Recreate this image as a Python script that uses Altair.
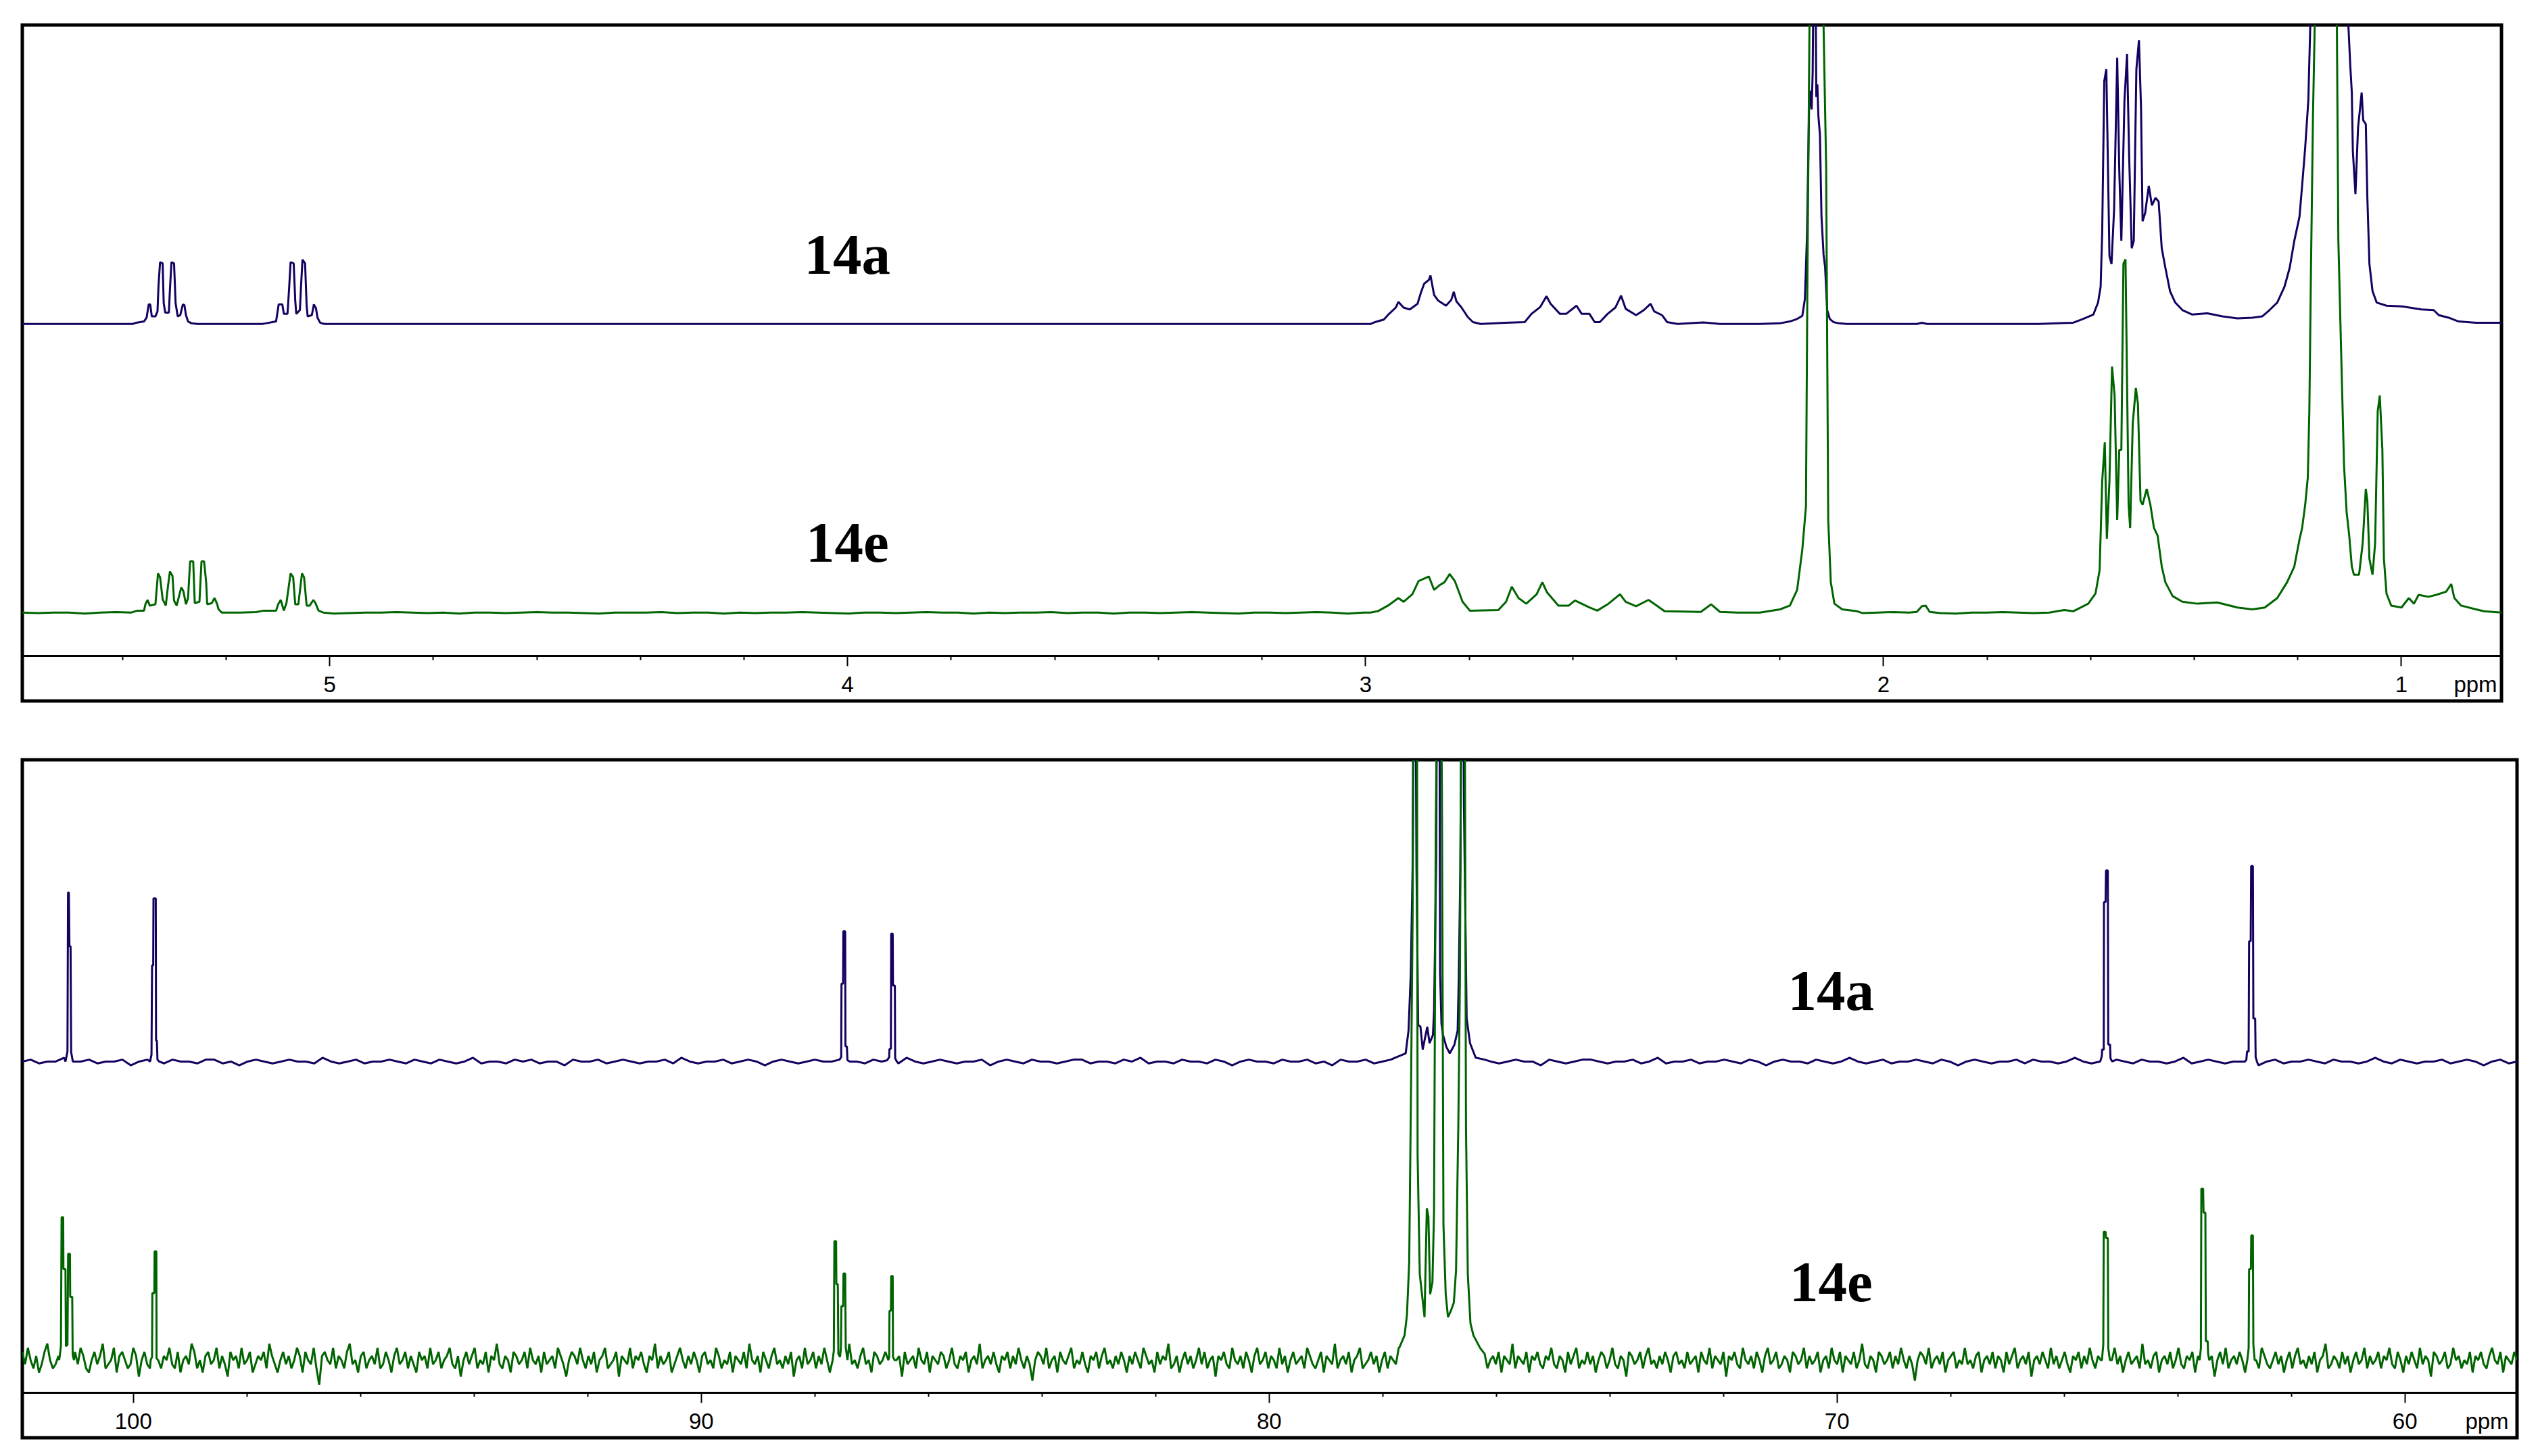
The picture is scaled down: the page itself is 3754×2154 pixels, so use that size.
import altair as alt
import numpy as np
import pandas as pd

NAVY = "#160060"
GREEN = "#006400"
TRACES = ["14a", "14e"]

# ------------------------------------------------------------------ 1H panel
H_DOMAIN = [0.806, 5.593]
H_MAJOR = [5, 4, 3, 2, 1]
H_MINOR = [5.4, 5.2, 4.8, 4.6, 4.4, 4.2, 3.8, 3.6, 3.4, 3.2, 2.8, 2.6, 2.4, 2.2,
           1.8, 1.6, 1.4, 1.2, 0.8]
H_OFFSET = {"14a": 52.6, "14e": 6.85}
H_LABEL_PPM = [4.0, 4.0]
H_LABEL_U = [63.3, 17.7]

H14A_SEGMENTS = [
    [(5.593, 0.0), (5.380, 0.0)],
    [(5.373, 0.2), (5.358, 0.4), (5.353, 1.0), (5.349, 3.1), (5.346, 3.1), (5.343, 1.2), (5.336, 1.2),
     (5.332, 2.0), (5.330, 6.1), (5.327, 9.8), (5.322, 9.6), (5.320, 3.3), (5.317, 1.8), (5.310, 1.8),
     (5.308, 5.4), (5.305, 9.8), (5.300, 9.6), (5.297, 3.3), (5.293, 1.2), (5.288, 1.4), (5.283, 3.1),
     (5.280, 3.0), (5.277, 1.4), (5.273, 0.4), (5.266, 0.1), (5.255, 0.0)],
    [(5.130, 0.0), (5.123, 0.1), (5.103, 0.4), (5.098, 3.1), (5.091, 3.1), (5.088, 1.6), (5.081, 1.6),
     (5.078, 5.4), (5.075, 9.8), (5.069, 9.6), (5.066, 3.7), (5.064, 1.6), (5.057, 2.2), (5.055, 5.7),
     (5.052, 10.2), (5.047, 9.6), (5.044, 2.9), (5.042, 1.2), (5.034, 1.4), (5.030, 3.1), (5.026, 2.5),
     (5.023, 1.0), (5.018, 0.2), (5.010, 0.0)],
    [(2.990, 0.0), (2.981, 0.3), (2.964, 0.7), (2.954, 1.6), (2.941, 2.6), (2.936, 3.5), (2.926, 2.6),
     (2.914, 2.3), (2.899, 3.2), (2.892, 5.1), (2.886, 6.4), (2.877, 7.0), (2.874, 7.7), (2.867, 4.6),
     (2.859, 3.7), (2.844, 2.9), (2.834, 3.8), (2.829, 5.1), (2.824, 3.6), (2.814, 2.6), (2.802, 1.1),
     (2.792, 0.3), (2.777, 0.0), (2.729, 0.2), (2.692, 0.3), (2.679, 1.6), (2.662, 2.7), (2.650, 4.4),
     (2.642, 3.2), (2.624, 1.6), (2.612, 1.6), (2.592, 2.9), (2.582, 1.6), (2.567, 1.6), (2.557, 0.3),
     (2.547, 0.3), (2.532, 1.6), (2.517, 2.6), (2.506, 4.5), (2.497, 2.4), (2.477, 1.4), (2.462, 2.2),
     (2.449, 3.2), (2.442, 2.0), (2.427, 1.4), (2.417, 0.3), (2.397, 0.0), (2.347, 0.25), (2.315, 0.0)],
    [(2.238, 0.0), (2.200, 0.1), (2.180, 0.4), (2.166, 0.8), (2.156, 1.3), (2.151, 4.0), (2.147, 14.0),
     (2.143, 34.0), (2.140, 37.0), (2.138, 34.0), (2.136, 40.0), (2.134, 60.0), (2.131, 60.0),
     (2.129, 36.0), (2.127, 38.0), (2.125, 33.0), (2.122, 30.0), (2.119, 17.0), (2.115, 11.0),
     (2.112, 9.0), (2.108, 2.2), (2.103, 0.8), (2.096, 0.3), (2.085, 0.1), (2.070, 0.0)],
    [(1.935, 0.0), (1.925, 0.2), (1.915, 0.0)],
    [(1.700, 0.0), (1.633, 0.2), (1.614, 0.8), (1.594, 1.5), (1.585, 3.4), (1.580, 5.9), (1.577, 14.5),
     (1.573, 38.5), (1.569, 40.4), (1.563, 10.8), (1.559, 9.5), (1.554, 18.2), (1.548, 42.2),
     (1.544, 24.3), (1.540, 13.2), (1.534, 35.4), (1.529, 42.8), (1.525, 26.8), (1.520, 12.0),
     (1.516, 13.2), (1.511, 40.4), (1.506, 45.0), (1.502, 34.2), (1.499, 16.3), (1.494, 17.6),
     (1.487, 21.9), (1.481, 18.8), (1.474, 20.0), (1.468, 19.4), (1.462, 12.0), (1.455, 8.9),
     (1.446, 5.2), (1.436, 3.4), (1.422, 2.2), (1.403, 1.5), (1.374, 1.7), (1.345, 1.2), (1.316, 0.9),
     (1.287, 1.0), (1.268, 1.2), (1.254, 2.2), (1.239, 3.4), (1.225, 5.9), (1.215, 8.9), (1.206, 13.2),
     (1.196, 17.0), (1.191, 21.9), (1.185, 28.0), (1.179, 35.4), (1.175, 48.0), (1.165, 90.0),
     (1.150, 130.0), (1.135, 100.0), (1.110, 60.0), (1.102, 48.0), (1.098, 41.0), (1.095, 36.7),
     (1.093, 27.4), (1.088, 20.6), (1.083, 31.1), (1.076, 36.7), (1.073, 32.3), (1.068, 31.7),
     (1.065, 20.0), (1.061, 9.5), (1.055, 5.2), (1.047, 3.4), (1.028, 2.9), (0.999, 2.8), (0.961, 2.3),
     (0.937, 2.2), (0.927, 1.4), (0.908, 1.0), (0.889, 0.4), (0.855, 0.2), (0.806, 0.2)],
]

H14E_SEGMENTS = [
    [(5.371, 0.3), (5.358, 0.3), (5.355, 1.4), (5.351, 2.0), (5.347, 1.1), (5.336, 1.3), (5.331, 6.2),
     (5.327, 5.6), (5.322, 2.1), (5.316, 1.1), (5.312, 4.0), (5.308, 6.5), (5.303, 5.8), (5.300, 1.9),
     (5.295, 1.1), (5.286, 4.0), (5.282, 3.4), (5.277, 1.3), (5.273, 2.3), (5.269, 8.1), (5.263, 8.1),
     (5.260, 1.5), (5.251, 1.7), (5.247, 8.1), (5.242, 8.1), (5.238, 4.8), (5.236, 1.3), (5.227, 1.5),
     (5.222, 2.3), (5.217, 1.4), (5.214, 0.5), (5.208, 0.0)],
    [(5.127, 0.3), (5.103, 0.3), (5.099, 1.3), (5.094, 2.0), (5.088, 0.3), (5.083, 1.5), (5.075, 6.2),
     (5.070, 5.6), (5.066, 1.3), (5.060, 1.3), (5.053, 6.2), (5.049, 5.6), (5.044, 1.1), (5.038, 1.1),
     (5.031, 2.0), (5.027, 1.5), (5.021, 0.3), (5.012, 0.0)],
    [(2.990, 0.0), (2.976, 0.2), (2.956, 1.1), (2.936, 2.3), (2.926, 1.7), (2.909, 2.9), (2.897, 5.0),
     (2.877, 5.7), (2.867, 3.6), (2.857, 4.3), (2.847, 4.8), (2.837, 6.1), (2.827, 5.0), (2.812, 1.7),
     (2.798, 0.3), (2.743, 0.4), (2.728, 1.7), (2.717, 4.1), (2.704, 2.3), (2.689, 1.4), (2.669, 2.9),
     (2.658, 4.8), (2.649, 3.2), (2.627, 1.1), (2.607, 1.1), (2.595, 1.9), (2.567, 0.8), (2.552, 0.3),
     (2.532, 1.3), (2.508, 2.9), (2.497, 1.7), (2.477, 1.0), (2.453, 2.0), (2.437, 1.1), (2.422, 0.2),
     (2.352, 0.1), (2.332, 1.3), (2.315, 0.1)],
    [(2.238, 0.0), (2.199, 0.5), (2.180, 1.1), (2.166, 3.6), (2.156, 10.0), (2.149, 16.8), (2.146, 55.0),
     (2.142, 95.0), (2.136, 150.0), (2.130, 200.0), (2.124, 150.0), (2.118, 100.0), (2.115, 93.0),
     (2.110, 70.7), (2.106, 14.7), (2.101, 4.8), (2.094, 1.4), (2.079, 0.5), (2.050, 0.2)],
    [(1.935, 0.1), (1.925, 1.0), (1.918, 1.1), (1.910, 0.1)],
    [(1.650, 0.4), (1.633, 0.2), (1.604, 1.4), (1.590, 3.0), (1.582, 6.7), (1.577, 20.8), (1.572, 27.0),
     (1.568, 11.7), (1.563, 20.8), (1.558, 39.0), (1.553, 34.4), (1.548, 14.7), (1.544, 25.8),
     (1.540, 25.8), (1.536, 55.3), (1.532, 56.0), (1.526, 17.1), (1.523, 13.4), (1.518, 30.0),
     (1.512, 35.6), (1.508, 33.1), (1.503, 17.7), (1.499, 17.1), (1.491, 19.6), (1.484, 17.1),
     (1.477, 13.4), (1.470, 12.2), (1.462, 7.3), (1.455, 4.8), (1.441, 2.6), (1.422, 1.7), (1.393, 1.4),
     (1.355, 1.6), (1.316, 0.8), (1.287, 0.5), (1.263, 0.8), (1.239, 2.3), (1.220, 4.8), (1.206, 7.3),
     (1.196, 11.6), (1.191, 13.4), (1.185, 17.1), (1.180, 21.4), (1.177, 31.9), (1.174, 53.5),
     (1.170, 78.7), (1.165, 100.0), (1.150, 150.0), (1.135, 110.0), (1.124, 95.0), (1.121, 59.0),
     (1.115, 39.3), (1.110, 23.3), (1.105, 15.9), (1.100, 12.2), (1.095, 7.3), (1.091, 6.0),
     (1.081, 6.0), (1.074, 11.0), (1.068, 19.6), (1.065, 17.7), (1.061, 8.5), (1.055, 6.0),
     (1.050, 11.0), (1.045, 31.9), (1.041, 34.4), (1.036, 25.8), (1.033, 8.5), (1.028, 3.0),
     (1.019, 1.1), (0.999, 0.8), (0.985, 2.3), (0.975, 1.4), (0.966, 2.8), (0.947, 2.5), (0.932, 2.8),
     (0.913, 3.3), (0.903, 4.5), (0.897, 2.3), (0.884, 1.1), (0.855, 0.5), (0.840, 0.2)],
]

# small baseline ticks of the 14e proton trace (units of 0.08)
H14E_NOISE = [
    0, -1, 0, 0, -2, 0, 1, 0, -1, 0, 0, -1, -2, 0, 0, 1, 0, -1, 0, 0, -2, -1, 0, 0, 1, 0, -1, 0, -2, 0, 0, -1, 0, 1, 0, 0, -1, -2, 0, 0,
    0, 1, -1, 0, 0, -2, 0, -1, 0, 0, 1, 0, -1, -2, 0, 0, -1, 0, 1, 0, 0, -2, 0, -1, 0, 0, 1, -1, 0, 0, -2, 0, 0, -1, 0, 1, 0, -1, -2, 0,
    0, -1, 0, 1, 0, -2, 0, 0, -1, 0, 0, 1, -1, 0, -2, 0, 0, -1, 1, 0, 0, -2, -1, 0, 0, 1, 0, -1, 0, -2, 0, 0, 1, -1, 0, 0, -2, 0, -1, 0,
    1, 0, 0, -1, -2, 0, 0, 1, 0, -1, 0, 0, -2, -1, 0, 1, 0, 0, -1, 0, -2, 0, 0, 1, -1, 0, 0, -2, 0, -1, 0, 0, 1, 0, -1, -2, 0, 0, -1, 0,
]

# ------------------------------------------------------------------ 13C panel
C_DOMAIN = [58.02, 101.95]
C_MAJOR = [100, 90, 80, 70, 60]
C_MINOR = [98, 96, 94, 92, 88, 86, 84, 82, 78, 76, 74, 72, 68, 66, 64, 62, 58]
C_OFFSET = {"14a": 52.3, "14e": 5.1}
C_LABEL_PPM = [70.1, 70.1]
C_LABEL_U = [63.2, 17.2]

C14A_SEGMENTS = [
    [(101.19, 0.0), (101.155, 1.6), (101.145, 26.7), (101.13, 26.7), (101.12, 18.2), (101.10, 18.2),
     (101.09, 1.5), (101.06, 0.0)],
    [(99.70, 0.0), (99.675, 1.1), (99.665, 15.2), (99.645, 15.2), (99.64, 25.8), (99.60, 25.8),
     (99.595, 3.3), (99.58, 3.3), (99.57, 0.3), (99.54, 0.0)],
    [(87.56, 0.3), (87.53, 0.7), (87.525, 12.3), (87.497, 12.3), (87.492, 20.6), (87.46, 20.6),
     (87.455, 2.4), (87.43, 2.4), (87.42, 0.2), (87.38, 0.0)],
    [(86.72, 0.2), (86.685, 0.7), (86.68, 2.0), (86.655, 2.0), (86.65, 20.2), (86.623, 20.2),
     (86.618, 12.0), (86.585, 12.0), (86.58, 0.5), (86.55, 0.0)],
    [(77.80, 0.5), (77.59, 1.3), (77.54, 4.9), (77.50, 13.9), (77.468, 30.8), (77.45, 70.0), (77.42, 70.0),
     (77.40, 30.8), (77.37, 5.8), (77.33, 5.5), (77.29, 1.9), (77.21, 5.5), (77.17, 2.9), (77.11, 4.2),
     (77.09, 8.1), (77.052, 32.0), (77.032, 80.0), (77.00, 80.0), (76.984, 13.9), (76.96, 6.0),
     (76.933, 4.2), (76.873, 2.3), (76.814, 1.3), (76.734, 2.6), (76.675, 4.9), (76.655, 13.3),
     (76.627, 30.6), (76.60, 70.0), (76.575, 70.0), (76.564, 40.5), (76.516, 6.8), (76.457, 2.9),
     (76.357, 0.6), (76.20, 0.3)],
    [(65.36, 0.0), (65.333, 0.8), (65.325, 1.9), (65.298, 1.9), (65.294, 25.2), (65.266, 25.2),
     (65.258, 30.2), (65.226, 30.2), (65.218, 2.7), (65.187, 2.7), (65.179, 0.5), (65.15, 0.0)],
    [(62.81, 0.0), (62.786, 0.3), (62.774, 1.6), (62.746, 1.6), (62.738, 19.0), (62.710, 19.0),
     (62.702, 30.9), (62.671, 30.9), (62.663, 6.8), (62.631, 6.8), (62.623, 0.7), (62.60, 0.0)],
]

C14E_SEGMENTS = [
    [(101.30, 0.0), (101.27, 2.2), (101.258, 22.6), (101.23, 22.6), (101.226, 14.4), (101.19, 14.4),
     (101.182, 2.2), (101.155, 2.4), (101.143, 16.8), (101.111, 16.8), (101.107, 10.0), (101.071, 10.0),
     (101.063, 0.8), (101.04, 0.0)],
    [(99.69, 0.0), (99.665, 0.5), (99.66, 10.6), (99.625, 10.6), (99.62, 17.2), (99.59, 17.2),
     (99.586, 0.3), (99.56, 0.0)],
    [(87.68, 0.0), (87.66, 1.5), (87.65, 18.8), (87.62, 18.8), (87.615, 12.0), (87.59, 12.0), (87.58, 1.0),
     (87.55, 0.5), (87.535, 2.0), (87.527, 8.5), (87.496, 8.5), (87.49, 13.7), (87.46, 13.7),
     (87.45, 2.0), (87.42, 0.0)],
    [(86.70, 0.0), (86.685, 0.5), (86.68, 7.8), (86.655, 7.8), (86.65, 13.3), (86.623, 13.3),
     (86.618, 0.5), (86.59, 0.0)],
    [(77.70, 2.0), (77.61, 3.9), (77.568, 7.1), (77.528, 15.5), (77.496, 43.0), (77.468, 70.0),
     (77.45, 100.0), (77.39, 100.0), (77.38, 32.4), (77.342, 13.6), (77.298, 10.0), (77.258, 6.8),
     (77.218, 24.0), (77.190, 22.7), (77.159, 10.4), (77.119, 12.3), (77.091, 23.3), (77.060, 85.0),
     (77.03, 110.0), (76.972, 110.0), (76.952, 90.0), (76.925, 21.4), (76.885, 10.4), (76.845, 6.8),
     (76.794, 7.8), (76.742, 9.1), (76.703, 14.2), (76.663, 37.2), (76.635, 60.0), (76.615, 100.0),
     (76.548, 100.0), (76.528, 36.9), (76.496, 13.6), (76.449, 5.8), (76.397, 3.9), (76.278, 1.9),
     (76.20, 1.0)],
    [(65.33, 0.0), (65.306, 2.4), (65.298, 20.3), (65.266, 20.3), (65.258, 19.3), (65.226, 19.3),
     (65.218, 1.9), (65.19, 0.0)],
    [(63.61, 0.0), (63.587, 1.9), (63.579, 27.1), (63.548, 27.1), (63.540, 23.3), (63.508, 23.3),
     (63.500, 3.0), (63.468, 3.0), (63.46, 1.0), (63.44, 0.0)],
    [(62.77, 0.0), (62.746, 1.9), (62.738, 14.4), (62.706, 14.4), (62.700, 19.7), (62.671, 19.7),
     (62.663, 2.4), (62.64, 0.0)],
]

# baseline noise of the 13C traces, read by eye (14a in units of 0.3, 14e in units of 0.65)
C14A_NOISE = [
    0, 1, -1, 0, 0, 2, -1, 0, 1, -1, 0, 0, 1, -2, 0, 1, 0, -1, 1, 0, 0, -1, 1, 1, -1, 0, -2, 0, 1, 0, -1, 0, 1, 0, 0, -1, 2, 0, -1, 0, 1, -1, 0, 0, 1, 0, -1, 1, 0, -1,
    1, 0, -1, 0, 2, -1, 0, 0, -1, 1, 0, 1, -1, 0, 0, -2, 1, 0, 0, 1, -1, 0, 1, 0, -1, 0, 0, 1, -1, 2, 0, -1, 0, 0, 1, -1, 0, 1, 0, -2, 0, 1, 0, -1, 0, 1, 0, 0, -1, 1,
    0, -1, 1, 0, 0, -1, 2, 0, -1, 0, 1, 0, -1, 0, 0, 1, -2, 0, 1, 0, -1, 1, 0, 0, -1, 0, 1, 1, -1, 0, 0, -1, 1, 0, 2, -1, 0, 0, -1, 1, 0, 0, -1, 1, 0, -2, 0, 1, 0, 0,
    -1, 1, 0, 0, 1, -1, 0, -2, 1, 0, 0, 1, -1, 0, 1, 0, 0, -1, 1, 0, -1, 2, 0, 0, -1, 1, 0, -1, 0, 1, 0, 0, -2, 1, 0, -1, 0, 1, 1, 0, -1, 0, 0, 1, -1, 0, 2, -1, 0, 0,
    1, -1, 0, 0, 1, 0, -1, 1, 0, -2, 0, 1, 0, 0, -1, 1, 0, -1, 0, 2, 0, -1, 0, 1, -1, 0, 0, 1, 0, -1, 1, 0, -2, 0, 1, 0, -1, 0, 0, 1, -1, 1, 0, 0, -1, 0, 2, 0, -1, 0,
    0, 1, 0, -1, 1, 0, 0, -1, 0, 2, -1, 0, 1, 0, -1, 0, 0, 1, -2, 0, 1, -1, 0, 0, 1, 0, -1, 1, 0, 0, -1, 0, 2, 0, -1, 1, 0, -1, 0, 0, 1, -1, 0, 1, 0, -2, 0, 1, -1, 0,
]

C14E_NOISE = [
    2, -1, 3, 0, -2, 1, -3, -1, 2, 4, 0, -2, -1, 1, 3, -2, 0, -4, 1, 2, -1, 3, 1, -2, -3, 0, 2, -1, 1, 4, -2, -1, 0, 3, -3, 1, 2, 0, -2, -1, 3, 1, -4, 0, 2, -1, -2, 1, 3, 0,
    -2, 1, 0, 3, -1, -2, 2, -3, 0, 1, -1, 4, 2, -2, 0, -3, 1, 2, -1, 0, 3, -2, 1, -1, -4, 2, 0, 1, -2, 3, -1, 0, 2, -3, -1, 1, 0, 2, -2, 4, 1, -1, -3, 0, 2, -1, 1, -2, 0, 3,
    1, -3, 2, 0, -1, 3, -2, -6, 1, 2, 0, -1, 3, -2, 1, 0, -2, 2, 4, -1, 0, -3, 1, 2, -2, 0, 1, -1, 3, -2, -1, 2, 0, -3, 1, 3, -1, 0, 2, -2, 1, -1, -3, 2, 0, 1, -2, 3, -1, 0,
    2, -2, 0, 1, 3, -1, -2, 1, -4, 0, 2, -1, 1, 3, -2, 0, -1, 2, -3, 1, 0, 4, -1, -2, 1, 0, -3, 2, 1, -1, 0, 2, -2, 3, 0, -1, 1, -3, 2, -1, 0, 1, -2, 3, 1, -1, -4, 0, 2, 1,
    -1, 3, 0, -2, 1, -1, 2, -3, 0, 1, 3, -2, -1, 0, 2, -4, 1, 0, -1, 3, -2, 1, 0, 2, -1, -3, 1, 0, 4, -2, 1, -1, 0, 2, -3, -1, 1, 3, 0, -2, 1, -1, 2, 0, -3, 1, 2, -1, 0, -2,
    3, 1, -2, 0, -1, 2, -3, 1, 0, -1, 2, -2, 4, 0, -1, 1, -3, 2, 0, -2, 1, 3, -1, 0, -2, 1, -1, 2, -4, 0, 1, -2, 3, -1, 0, 2, -2, 1, -1, 3, 0, -3, 1, 2, -1, 0, -2, 1, 4, -1,
    0, -2, 1, 3, -1, 0, -3, 2, 1, -1, 0, 2, -2, -1, 3, 0, 1, -4, 2, -1, 0, 1, -2, 3, 0, -1, 2, -3, 1, 0, -1, 2, 1, -2, 0, 3, -1, -2, 1, 0, 2, -3, 0, 1, -1, 4, -2, 0, 1, -1,
    2, -1, -3, 1, 0, 2, -2, 1, -1, 3, 0, -2, 1, -1, -5, 0, 2, 1, -1, 3, -2, 0, 1, -3, 2, 0, -1, 1, 3, -2, 0, -1, 2, -1, -3, 1, 0, 2, -2, 1, 3, -1, 0, -2, 1, -1, 2, 0, -3, 1,
    -1, 2, 0, -2, 3, 1, -1, 0, -3, 2, -1, 1, 0, 4, -2, -1, 1, -3, 0, 2, -1, 1, -2, 0, 3, -1, 2, -2, 0, 1, -4, 1, 0, 2, -1, -2, 3, 0, -1, 1, -2, 2, 0, -3, 1, 3, -1, 0, 2, -2,
    1, 0, -2, 3, -1, 1, -3, 0, 2, -1, 0, 1, -2, 3, 1, -1, -2, 0, 2, -3, 1, 0, -1, 4, -2, 0, 1, -1, 2, -3, 0, 1, 3, -2, -1, 0, 2, -1, 1, -3, 0, 2, -2, 1, 0, -1, 3, -2, 0, 1,
    -2, 1, 3, -1, 0, -3, 2, 1, -1, 0, 2, -2, 1, -4, 0, 3, -1, 1, -2, 0, 2, -1, -3, 1, 0, 2, -1, 3, -2, 0, 1, -1, 2, -3, 1, 0, -1, 4, -2, 1, 0, -1, 2, -3, 1, 0, 2, -1, -2, 1,
    0, 3, -1, -2, 1, 0, -3, 2, -1, 1, 3, -2, 0, -1, 2, -1, 1, -3, 0, 2, 1, -2, 0, 3, -1, -2, 1, 0, -4, 2, 1, -1, 0, 2, -2, 1, 3, -1, 0, -2, 1, -1, 2, 0, -3, 1, 2, -1, 0, -2,
    2, -1, 0, 1, -3, 2, 0, -1, 3, -2, 1, 0, -1, 2, -4, 1, 0, 2, -1, -2, 3, 0, -1, 1, -2, 2, 0, -3, 1, 3, -1, 0, 2, -2, -1, 1, 0, -3, 2, 1, -1, 0, 3, -2, 1, -1, 0, 2, -3, 0,
    1, -2, 3, 0, -1, 2, -3, 1, 0, -1, 2, -2, 0, 4, -1, -2, 1, 0, -3, 2, 1, -1, 0, 2, -2, 1, -1, 3, 0, -2, 1, -1, -5, 0, 2, 1, -1, 3, -2, 0, 1, -1, 2, -3, 0, 1, 2, -2, 0, -1,
    3, -1, 0, -2, 1, 2, -3, 0, 1, -1, 2, -2, 1, 0, -3, 2, -1, 1, 3, -2, 0, 1, -1, 2, -4, 0, 1, -1, 2, 0, -2, 3, -1, 1, -2, 0, 2, -1, -3, 1, 0, 2, -2, 1, -1, 3, 0, -2, 1, 0,
    -1, 2, -2, 0, 3, -1, 1, -3, 0, 2, -1, 0, 1, -2, 4, -1, 0, -2, 1, 2, -3, 0, 1, -1, 2, -2, 0, 3, -1, -2, 1, 0, 2, -3, 1, -1, 0, 2, -1, 1, -4, 0, 2, -1, 3, -2, 0, 1, -1, 2,
    0, -3, 1, 2, -1, 0, -2, 3, 1, -1, -2, 0, 2, -1, 1, -3, 0, 2, -2, 1, 3, -1, 0, -2, 1, -1, 2, -3, 0, 1, 4, -2, -1, 1, 0, -2, 2, -1, 1, -3, 0, 2, -1, 0, 3, -2, 1, -1, 0, 2,
    -2, 1, 0, 3, -1, -2, 2, 0, -3, 1, -1, 2, 0, -2, 3, -1, 1, 0, -4, 2, 1, -1, 0, 2, -2, -1, 3, 0, 1, -2, 0, -1, 2, -3, 1, 0, 2, -1, -2, 1, 3, 0, -1, 2, -3, 1, 0, -1, 2, 0,
]


def build_trace(name, segments, offset, span, noise=None, unit=0.0):
    pts = [p for seg in segments for p in seg]
    if noise:
        windows = [(min(p[0] for p in s), max(p[0] for p in s)) for s in segments]
        grid = np.linspace(span[1], span[0], len(noise))
        for g, n in zip(grid, noise):
            if not any(lo - 0.004 <= g <= hi + 0.004 for lo, hi in windows):
                pts.append((float(g), n * unit))
    pts.sort(key=lambda p: -p[0])
    return pd.DataFrame({
        "ppm": [p[0] for p in pts],
        "u": [offset + p[1] for p in pts],
        "trace": name,
        "idx": list(range(len(pts))),
    })


h_df = pd.concat([
    build_trace("14a", H14A_SEGMENTS, H_OFFSET["14a"], H_DOMAIN),
    build_trace("14e", H14E_SEGMENTS, H_OFFSET["14e"], H_DOMAIN, H14E_NOISE, 0.08),
], ignore_index=True)

c_df = pd.concat([
    build_trace("14a", C14A_SEGMENTS, C_OFFSET["14a"], C_DOMAIN, C14A_NOISE, 0.3),
    build_trace("14e", C14E_SEGMENTS, C_OFFSET["14e"], C_DOMAIN, C14E_NOISE, 0.65),
], ignore_index=True)

h_lab = pd.DataFrame({"ppm": H_LABEL_PPM, "u": H_LABEL_U, "label": TRACES})
c_lab = pd.DataFrame({"ppm": C_LABEL_PPM, "u": C_LABEL_U, "label": TRACES})

AXIS_OFFSET = -67
Y_DOMAIN = [-7.17, 100]


def panel(df, lab, domain, major, minor, width, height, title_x):
    xs = alt.Scale(domain=domain, reverse=True, nice=False, zero=False)
    ys = alt.Scale(domain=Y_DOMAIN, nice=False, zero=False)
    major_axis = alt.Axis(
        values=major, format="d", orient="bottom", offset=AXIS_OFFSET,
        tickSize=15, tickWidth=2, tickColor="black",
        domain=True, domainWidth=3, domainColor="black", grid=False,
        labelFont="Liberation Sans", labelFontSize=33, labelColor="black",
        labelBaseline="alphabetic", labelPadding=38, labelFlush=False,
        title="ppm", titleX=title_x, titleY=53, titleAlign="center",
        titleBaseline="alphabetic", titleFont="Liberation Sans", titleFontSize=33,
        titleFontWeight="normal", titleColor="black",
    )
    lines = alt.Chart(df).mark_line(clip=True, strokeWidth=3, strokeJoin="bevel").encode(
        x=alt.X("ppm:Q", scale=xs, axis=major_axis),
        y=alt.Y("u:Q", scale=ys, axis=None),
        color=alt.Color("trace:N", scale=alt.Scale(domain=TRACES, range=[NAVY, GREEN]), legend=None),
        order=alt.Order("idx:Q"),
    )
    minor_layer = alt.Chart(pd.DataFrame({"ppm": minor})).mark_point(opacity=0).encode(
        x=alt.X("ppm:Q", scale=xs, axis=alt.Axis(
            values=minor, orient="bottom", offset=AXIS_OFFSET, tickSize=6, tickWidth=2,
            tickColor="black", domain=False, labels=False, grid=False, title=None)),
    )
    text = alt.Chart(lab).mark_text(
        font="Liberation Serif", fontWeight="bold", fontSize=85,
        align="center", baseline="middle", color="black",
    ).encode(
        x=alt.X("ppm:Q", scale=xs, axis=None),
        y=alt.Y("u:Q", scale=ys, axis=None),
        text="label:N",
    )
    return alt.layer(lines, minor_layer, text).resolve_axis(x="independent").properties(
        width=width, height=height)


top = panel(h_df, h_lab, H_DOMAIN, H_MAJOR, H_MINOR, 3667, 1000, 3628)
bottom = panel(c_df, c_lab, C_DOMAIN, C_MAJOR, C_MINOR, 3690, 1003, 3645)

chart = alt.vconcat(top, bottom, spacing=87, bounds="flush").properties(
    padding={"left": 22, "top": 26, "right": 10, "bottom": 10},
    background="white",
).configure_view(stroke="black", strokeWidth=5)

chart.save("out.html", embed_options={"renderer": "svg", "actions": False})
